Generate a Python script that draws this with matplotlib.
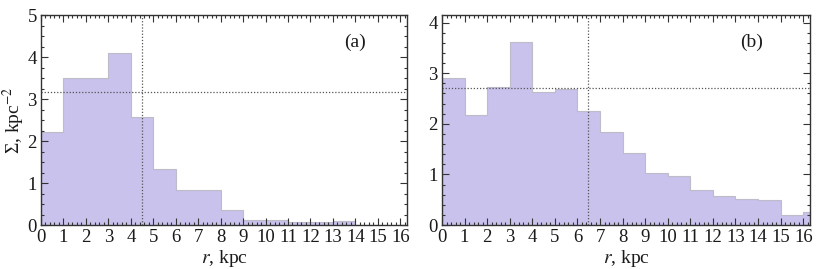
import matplotlib
matplotlib.use("Agg")
import matplotlib.pyplot as plt
from matplotlib.ticker import MultipleLocator
import numpy as np

plt.rcParams['font.family'] = ['Liberation Serif', 'DejaVu Serif']
plt.rcParams['mathtext.fontset'] = 'stix'

# data
edges_a = np.arange(0, 15)
sigma_a = [2.22, 3.51, 3.51, 4.09, 2.57, 1.34, 0.83, 0.84, 0.36, 0.12, 0.12, 0.08, 0.08, 0.09]
hline_a = 3.17
vline_a = 4.5

edges_b = np.arange(0, 18)
sigma_b = [2.90, 2.17, 2.72, 3.62, 2.62, 2.68, 2.26, 1.84, 1.43, 1.03, 0.97,
           0.69, 0.57, 0.52, 0.50, 0.20, 0.26]
hline_b = 2.70
vline_b = 6.45

xticks = list(range(0, 17))

fig = plt.figure(figsize=(8.18, 2.69), dpi=100)
ax_a = fig.add_axes([41/818, 1-225/269, 366/818, 210/269])
ax_b = fig.add_axes([442/818, 1-225/269, 368/818, 210/269])

fill_c = '#c8c2ec'
edge_c = '#bdbcc8'
txt_c = '#1a1a1a'

def style(ax, ymax, ymin_minor):
    ax.set_xlim(0, 16.3)
    ax.set_ylim(0, ymax)
    ax.set_xticks(xticks)
    ax.xaxis.set_minor_locator(MultipleLocator(0.2))
    ax.yaxis.set_major_locator(MultipleLocator(1))
    ax.yaxis.set_minor_locator(MultipleLocator(ymin_minor))
    ax.tick_params(which='both', direction='in', top=True, right=True,
                   colors='#333333', labelcolor=txt_c, labelsize=13.5, width=0.8)
    ax.tick_params(which='major', length=5)
    ax.tick_params(which='minor', length=2.5)
    ax.tick_params(axis='x', pad=3)
    ax.tick_params(axis='y', pad=3)
    for s in ax.spines.values():
        s.set_color('#333333')
        s.set_linewidth(1.0)
    ax.set_xlabel('$r$, kpc', fontsize=14, color=txt_c, labelpad=1)

ax_a.stairs(sigma_a, edges_a, fill=True, facecolor=fill_c, edgecolor='none', zorder=1)
ax_a.stairs(sigma_a, edges_a, fill=False, color=edge_c, lw=0.8, zorder=1.5)
ax_a.axhline(hline_a, color='#555555', ls=(0, (1, 1.5)), lw=0.9, zorder=2)
ax_a.axvline(vline_a, color='#555555', ls=(0, (1, 1.5)), lw=0.9, zorder=2)
style(ax_a, 5, 0.25)
ax_a.set_ylabel('Σ, kpc$^{-2}$', fontsize=14, color=txt_c, labelpad=0)
ax_a.text(0.858, 0.87, '(a)', transform=ax_a.transAxes, fontsize=14,
          color=txt_c, ha='center', va='center')

ax_b.stairs(sigma_b, edges_b, fill=True, facecolor=fill_c, edgecolor='none', zorder=1)
ax_b.stairs(sigma_b, edges_b, fill=False, color=edge_c, lw=0.8, zorder=1.5)
ax_b.axhline(hline_b, color='#555555', ls=(0, (1, 1.5)), lw=0.9, zorder=2)
ax_b.axvline(vline_b, color='#555555', ls=(0, (1, 1.5)), lw=0.9, zorder=2)
style(ax_b, 4.15, 0.2)
ax_b.text(0.842, 0.87, '(b)', transform=ax_b.transAxes, fontsize=14,
          color=txt_c, ha='center', va='center')

fig.savefig('out.png', dpi=100)
